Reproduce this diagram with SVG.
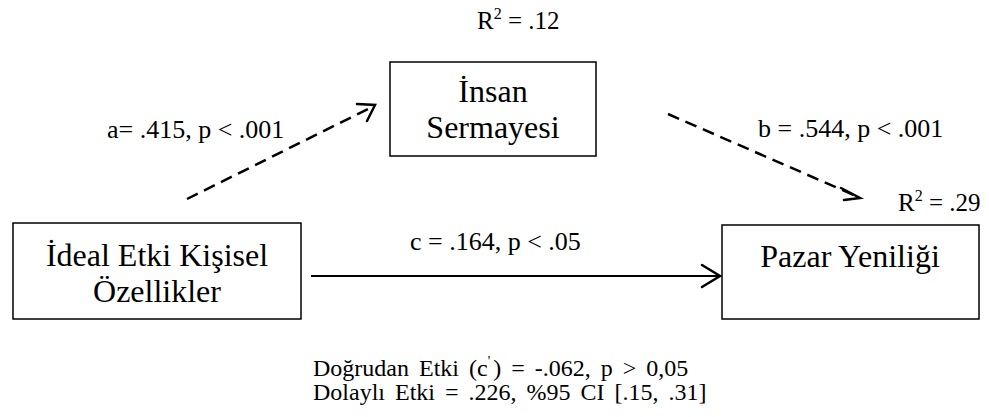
<svg xmlns="http://www.w3.org/2000/svg" width="989" height="417" viewBox="0 0 989 417">
<style>
text{font-family:"Liberation Serif","Times New Roman",serif;fill:#000}
.box{fill:#fff;stroke:#000;stroke-width:1.5}
.nt{font-size:32px;text-anchor:middle}
.lb{font-size:26px}
.r2{font-size:25px}
.bt{font-size:24px;word-spacing:4px}
.dash{fill:none;stroke:#000;stroke-width:2.5;stroke-dasharray:12 7}
.solid{fill:none;stroke:#000;stroke-width:2.2}
.head{fill:none;stroke:#000;stroke-width:2.5;stroke-linecap:round;stroke-linejoin:miter}
</style>
<rect width="989" height="417" fill="#fff"/>
<g id="node-ideal">
<rect class="box" x="13" y="223" width="288" height="96"/>
<text class="nt" x="157" y="266">İdeal Etki Kişisel</text>
<text class="nt" x="157" y="302">Özellikler</text>
</g>
<g id="node-insan">
<rect class="box" x="390" y="62" width="206" height="94"/>
<text class="nt" x="493" y="102">İnsan</text>
<text class="nt" x="493" y="138">Sermayesi</text>
</g>
<g id="node-pazar">
<rect class="box" x="722" y="225" width="257" height="94"/>
<text class="nt" x="850" y="267">Pazar Yeniliği</text>
</g>
<g id="connectors">
<line class="dash" x1="187" y1="199" x2="372" y2="107"/>
<polyline class="head" points="357,104 375,105 367,121"/>
<line class="dash" x1="668" y1="114" x2="856" y2="196"/>
<polyline class="head" points="841,188 860,198 844,200"/>
<line class="solid" x1="311" y1="276" x2="719" y2="276"/>
<polyline class="head" points="702,265 720,276 702,287"/>
</g>
<g id="labels">
<text class="r2" x="477" y="29">R<tspan font-size="16" dy="-10">2</tspan><tspan dy="10"> = .12</tspan></text>
<text class="lb" x="107" y="138">a= .415, p &lt; .001</text>
<text class="lb" x="758" y="137">b = .544, p &lt; .001</text>
<text class="r2" x="898" y="211">R<tspan font-size="16" dy="-10">2</tspan><tspan dy="10"> = .29</tspan></text>
<text class="lb" x="410" y="250">c = .164, p &lt; .05</text>
<text class="bt" x="313" y="376">Doğrudan Etki (c<tspan font-size="14" dy="-10">'</tspan><tspan dx="3" dy="10">) = -.062, p &gt; 0,05</tspan></text>
<text class="bt" x="313" y="400">Dolaylı Etki = .226, %95 CI [.15, .31]</text>
</g>
</svg>
